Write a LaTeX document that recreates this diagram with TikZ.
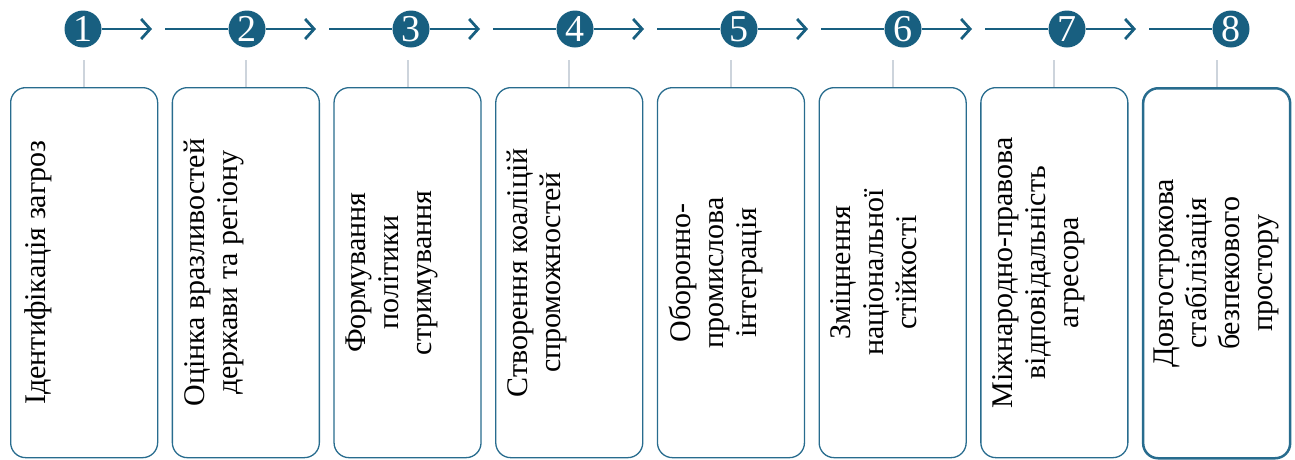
\documentclass[tikz,border=0pt]{standalone}
\usepackage{fontspec}
\setmainfont{Liberation Serif}
\newfontfamily\numfont{Liberation Serif}
\usetikzlibrary{arrows.meta}
\definecolor{tealA}{RGB}{24,95,128}
\definecolor{boxline}{RGB}{40,108,142}
\definecolor{grayline}{RGB}{205,212,220}
\begin{document}
\begin{tikzpicture}[x=1pt,y=-1pt,
  stagebox/.style={draw=boxline, line width=1.3pt, rounded corners=15pt, minimum width=147pt, minimum height=370pt, anchor=north west, inner sep=0pt},
  lastbox/.style={stagebox, line width=2.5pt},
  numcirc/.style={circle, fill=tealA, minimum size=37pt, inner sep=0pt, text=white, font=\numfont\fontsize{38}{38}\selectfont},
  arr/.style={draw=tealA, line width=2.8pt, -{Straight Barb[length=9pt,width=20pt]}},
  ln/.style={draw=tealA, line width=2.8pt},
  gl/.style={draw=grayline, line width=2pt},
  txt/.style={rotate=90, anchor=north, align=center, inner sep=0pt, font=\fontsize{30}{33}\selectfont}
]
\useasboundingbox (0,0) rectangle (1295,459);
% boxes
\node[stagebox] (b1) at (10,87) {};
\node[stagebox] (b2) at (171.7,87) {};
\node[stagebox] (b3) at (333.4,87) {};
\node[stagebox] (b4) at (495.1,87) {};
\node[stagebox] (b5) at (656.8,87) {};
\node[stagebox] (b6) at (818.5,87) {};
\node[stagebox] (b7) at (980.2,87) {};
\node[lastbox] (b8) at (1141.9,87) {};
% circles
\node[numcirc] (c1) at (83,29) {1};
\node[numcirc] (c2) at (247,29) {2};
\node[numcirc] (c3) at (411,29) {3};
\node[numcirc] (c4) at (575,29) {4};
\node[numcirc] (c5) at (739,29) {5};
\node[numcirc] (c6) at (903,29) {6};
\node[numcirc] (c7) at (1067,29) {7};
\node[numcirc] (c8) at (1231,29) {8};
% arrow tips and line starts
\foreach \i/\x in {1/83,2/247,3/411,4/575,5/739,6/903,7/1067}{
  \coordinate (t\i) at (\x+69,29);
}
\foreach \i/\x in {2/247,3/411,4/575,5/739,6/903,7/1067,8/1231}{
  \coordinate (s\i) at (\x-82,29);
}
\foreach \i in {1,...,7}{ \draw[arr] (c\i) -- (t\i); }
\foreach \i in {2,...,8}{ \draw[ln] (s\i) -- (c\i); }
% gray connectors
\foreach \i in {1,...,8}{
  \coordinate (g\i) at ([yshift=27pt]b\i.north);
  \draw[gl] (g\i) -- (b\i.north);
}
% texts
\node[txt] (x1) at ([xshift=14pt]b1.west) {Ідентифікація загроз};
\node[txt] (x2) at ([xshift=12pt]b2.west) {Оцінка вразливостей\\держави та регіону};
\node[txt] (x3) at ([xshift=12pt]b3.west) {Формування\\політики\\стримування};
\node[txt] (x4) at ([xshift=12pt]b4.west) {Створення коаліцій\\спроможностей};
\node[txt] (x5) at ([xshift=12pt]b5.west) {Оборонно-\\промислова\\інтеграція};
\node[txt] (x6) at ([xshift=12pt]b6.west) {Зміцнення\\національної\\стійкості};
\node[txt] (x7) at ([xshift=12pt]b7.west) {Міжнародно-правова\\відповідальність\\агресора};
\node[txt] (x8) at ([xshift=12pt]b8.west) {Довгострокова\\стабілізація\\безпекового\\простору};
\end{tikzpicture}
\end{document}
